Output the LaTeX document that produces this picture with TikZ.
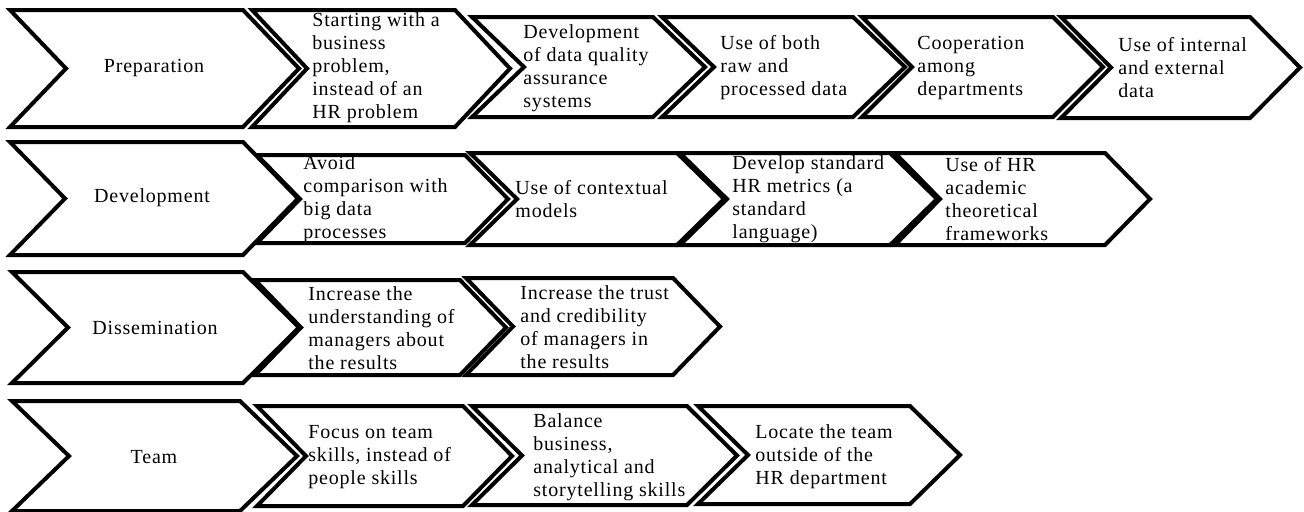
\documentclass[tikz,border=0pt]{standalone}
\usepackage{fontspec}
\setmainfont{Liberation Serif}[LetterSpace=4]
\newcommand{\chevshape}[5]{\draw[chev] (#1,#3) -- (#2,#3) -- ({#2+#5},{(#3+#4)/2}) -- (#2,#4) -- (#1,#4) -- ({#1+#5},{(#3+#4)/2}) -- cycle;}
\begin{document}
\begin{tikzpicture}[x=0.5pt,y=-0.5pt,
	chev/.style={draw,line width=2pt,fill=white,line join=miter},
	lbl/.style={font=\fontsize{10}{11.5}\selectfont,inner sep=0pt},
	item/.style={lbl,anchor=west,align=left}]
	\useasboundingbox (0,0) rectangle (1304,511);
	\chevshape{10}{243}{10}{127}{56}
	\chevshape{252}{455}{10}{127}{55}
	\chevshape{472}{653}{17}{117}{52}
	\chevshape{662}{853}{17}{117}{52}
	\chevshape{862}{1053}{17}{117}{50}
	\chevshape{1061}{1250}{17}{118}{50}
	\node [lbl] (p0) at (154,68) {Preparation};
	\node [item] (p1) at (312,68) {Starting with a\\business\\problem,\\instead of an\\HR problem};
	\node [item] (p2) at (523,68) {Development\\of data quality\\assurance\\systems};
	\node [item] (p3) at (720,68) {Use of both\\raw and\\processed data};
	\node [item] (p4) at (917,68) {Cooperation\\among\\departments};
	\node [item] (p5) at (1118,68) {Use of internal\\and external\\data};
	\chevshape{10}{243}{142}{255}{55}
	\chevshape{257}{465}{155}{243}{43}
	\chevshape{470}{677}{153}{245}{47}
	\chevshape{680}{890}{153}{245}{47}
	\chevshape{895}{1105}{153}{245}{45}
	\node [lbl] (d0) at (152,198) {Development};
	\node [item] (d1) at (303,199) {Avoid\\comparison with\\big data\\processes};
	\node [item] (d2) at (515,199) {Use of contextual\\models};
	\node [item] (d3) at (732,199) {Develop standard\\HR metrics (a\\standard\\language)};
	\node [item] (d4) at (945,199) {Use of HR\\academic\\theoretical\\frameworks};
	\chevshape{12}{243}{272}{383}{56}
	\chevshape{255}{460}{280}{375}{46}
	\chevshape{466}{673}{278}{375}{47}
	\node [lbl] (s0) at (155,328) {Dissemination};
	\node [item] (s1) at (308,328) {Increase the\\understanding of\\managers about\\the results};
	\node [item] (s2) at (520,327) {Increase the trust\\and credibility\\of managers in\\the results};
	\chevshape{12}{240}{401}{511}{57}
	\chevshape{257}{463}{406}{506}{49}
	\chevshape{472}{687}{406}{505}{50}
	\chevshape{698}{910}{406}{504}{50}
	\node [lbl] (t0) at (154,457) {Team};
	\node [item] (t1) at (308,457) {Focus on team\\skills, instead of\\people skills};
	\node [item] (t2) at (533,457) {Balance\\business,\\analytical and\\storytelling skills};
	\node [item] (t3) at (755,457) {Locate the team\\outside of the\\HR department};
\end{tikzpicture}
\end{document}
